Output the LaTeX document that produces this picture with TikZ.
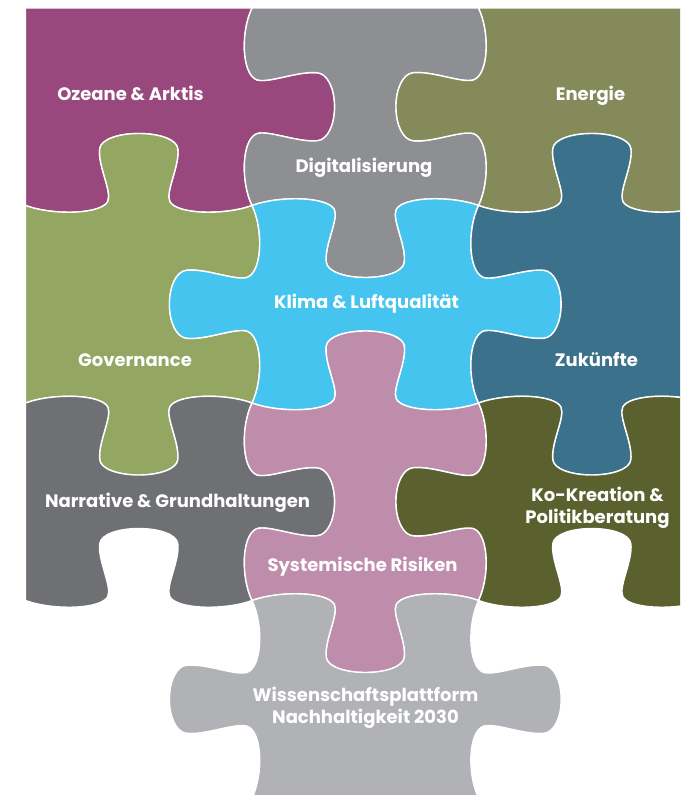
\documentclass[tikz,border=0pt]{standalone}
\usepackage{fontspec}
\setmainfont{Poppins}
\definecolor{cOz}{RGB}{152,72,124}
\definecolor{cDig}{RGB}{142,143,147}
\definecolor{cEn}{RGB}{132,138,90}
\definecolor{cGov}{RGB}{147,166,98}
\definecolor{cKl}{RGB}{68,196,238}
\definecolor{cZu}{RGB}{59,113,138}
\definecolor{cNar}{RGB}{110,112,115}
\definecolor{cSys}{RGB}{190,141,171}
\definecolor{cKo}{RGB}{90,97,46}
\definecolor{cWis}{RGB}{177,178,181}
\newcommand\kseg[6]{%
  \pgfmathsetmacro\kax{\kmx+(#1)*\ktx+(#2)*\knx}%
  \pgfmathsetmacro\kay{\kmy+(#1)*\kty+(#2)*\kny}%
  \pgfmathsetmacro\kbx{\kmx+(#3)*\ktx+(#4)*\knx}%
  \pgfmathsetmacro\kby{\kmy+(#3)*\kty+(#4)*\kny}%
  \pgfmathsetmacro\kcx{\kmx+(#5)*\ktx+(#6)*\knx}%
  \pgfmathsetmacro\kcy{\kmy+(#5)*\kty+(#6)*\kny}%
  \pgfpathcurveto{\pgfpointxy{\kax}{\kay}}{\pgfpointxy{\kbx}{\kby}}{\pgfpointxy{\kcx}{\kcy}}%
}
\newcommand\kedge{%
  \kseg{-75}{-10}{-33}{-9}{-27}{4}%
  \kseg{-23}{14}{-36}{40}{-34}{57}%
  \kseg{-33}{66}{-18}{72}{0}{72}%
  \kseg{18}{72}{33}{66}{34}{57}%
  \kseg{36}{40}{23}{14}{27}{4}%
  \kseg{33}{-9}{75}{-10}{98.75}{0}%
}
\newcommand\hedge[4]{%
  \ifnum#4=0 \pgfpathlineto{\pgfpointxy{#2}{#3}}%
  \else
    \pgfmathsetmacro\kmx{(#1+#2)/2}\pgfmathsetmacro\kmy{#3}%
    \pgfmathsetmacro\ktx{(#2-#1)/abs(#2-#1)}\def\kty{0}%
    \def\knx{0}\def\kny{#4}%
    \kedge
  \fi}
\newcommand\vedge[4]{%
  \ifnum#4=0 \pgfpathlineto{\pgfpointxy{#3}{#2}}%
  \else
    \pgfmathsetmacro\kmx{#3}\pgfmathsetmacro\kmy{(#1+#2)/2}%
    \def\ktx{0}\pgfmathsetmacro\kty{(#2-#1)/abs(#2-#1)}%
    \def\knx{#4}\def\kny{0}%
    \kedge
  \fi}
\newcommand\piece[7]{%
  \pgfmathsetmacro\pxa{#1*197.5}\pgfmathsetmacro\pxb{(#1+1)*197.5}%
  \pgfmathsetmacro\pya{#2*197.5}\pgfmathsetmacro\pyb{(#2+1)*197.5}%
  \begin{pgfscope}%
  \pgfpathmoveto{\pgfpointxy{\pxa}{\pya}}%
  \hedge{\pxa}{\pxb}{\pya}{#3}%
  \vedge{\pya}{\pyb}{\pxb}{#4}%
  \hedge{\pxb}{\pxa}{\pyb}{#5}%
  \vedge{\pyb}{\pya}{\pxa}{#6}%
  \pgfpathclose
  \pgfsetfillcolor{#7}\pgfsetstrokecolor{white}\pgfsetlinewidth{1.4pt}%
  \pgfsetroundjoin
  \pgfusepath{fill,stroke}%
  \end{pgfscope}}
\begin{document}
\begin{tikzpicture}[x=1pt,y=-1pt,
  lbl/.style={text=white,font=\bfseries\fontsize{18}{21.5}\selectfont,align=center,inner sep=0pt},
  lbl1/.style={lbl,anchor=base}]
\useasboundingbox (0,0) rectangle (680,795);
\clip (0,0) rectangle (680,795);
\begin{scope}[shift={(25.5,8)},xscale=1.147]
\piece{0}{0}{0}{1}{-1}{0}{cOz}
\piece{1}{0}{0}{-1}{1}{1}{cDig}
\piece{2}{0}{0}{0}{-1}{-1}{cEn}
\piece{0}{1}{-1}{-1}{1}{0}{cGov}
\piece{1}{1}{1}{1}{-1}{-1}{cKl}
\piece{2}{1}{-1}{0}{1}{1}{cZu}
\piece{0}{2}{1}{1}{-1}{0}{cNar}
\piece{1}{2}{-1}{-1}{1}{1}{cSys}
\piece{2}{2}{1}{0}{-1}{-1}{cKo}
\piece{1}{3}{1}{1}{0}{-1}{cWis}
\end{scope}
\node[lbl1] (oz) at (130.5,100) {Ozeane \& Arktis};
\node[lbl1] (dig) at (364,172) {Digitalisierung};
\node[lbl1] (en) at (590.5,100) {Energie};
\node[lbl1] (kl) at (366.5,308.5) {Klima \& Luftqualität};
\node[lbl1] (gov) at (135,366.5) {Governance};
\node[lbl1] (zu) at (596.5,366.5) {Zukünfte};
\node[lbl1] (nar) at (177.5,507.5) {Narrative \& Grundhaltungen};
\node[lbl1] (sys) at (362.5,571) {Systemische Risiken};
\node[lbl] (ko) at (597.5,508) {Ko-Kreation \&\\Politikberatung};
\node[lbl] (wis) at (365.5,708) {Wissenschaftsplattform\\Nachhaltigkeit 2030};
\end{tikzpicture}
\end{document}
